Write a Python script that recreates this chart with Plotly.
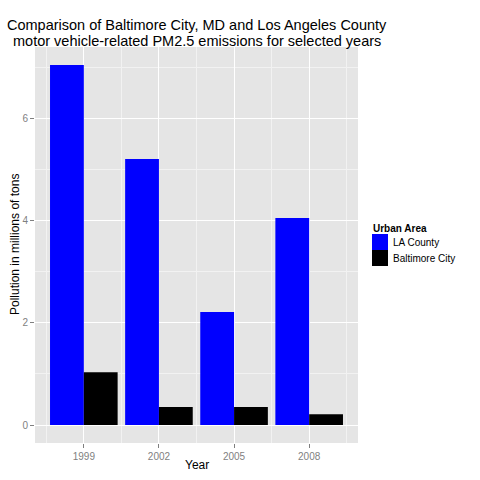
import plotly.graph_objects as go

years = ["1999", "2002", "2005", "2008"]
la_county = [7.04, 5.20, 2.21, 4.05]
baltimore = [1.03, 0.35, 0.35, 0.21]
series_names = ["LA County", "Baltimore City"]
series_colors = ["#0000FF", "#000000"]
title_lines = ["Comparison of Baltimore City, MD and Los Angeles County",
               "motor vehicle-related PM2.5 emissions for selected years"]
x_title = "Year"
y_title = "Pollution in millions of tons"

FONT = "Liberation Sans, Arial, Helvetica, sans-serif"
W, H = 480, 480
L, R, T, B = 35, 358, 47, 443  # panel pixel box

xi = list(range(len(years)))

fig = go.Figure()
for name, vals, col in zip(series_names, [la_county, baltimore], series_colors):
    fig.add_trace(go.Bar(x=xi, y=vals, name=name, marker=dict(color=col, line=dict(width=0)),
                         showlegend=False))

def px_x(p):
    return (p - L) / (R - L)

def px_y(p):
    return (B - p) / (B - T)

fig.update_layout(
    width=W, height=H,
    margin=dict(l=L, r=W - R, t=T, b=H - B),
    paper_bgcolor="white", plot_bgcolor="#E5E5E5",
    barmode="group", bargap=0.1, bargroupgap=0,
    font=dict(family=FONT, color="black"),
    xaxis=dict(
        range=[-0.65, 3.65], tickmode="array", tickvals=xi, ticktext=years,
        automargin=False,
        showgrid=True, gridcolor="white", gridwidth=1.2, zeroline=False,
        ticks="outside", ticklen=4, tickcolor="#7F7F7F", tickwidth=1,
        tickfont=dict(size=10, color="#7F7F7F", family=FONT),
        minor=dict(tickmode="array", tickvals=[-0.5, 0.5, 1.5, 2.5, 3.5],
                   showgrid=True, gridcolor="#F2F2F2", gridwidth=0.6, ticks=""),
        showline=False,
    ),
    yaxis=dict(
        range=[-0.352, 7.392], tickmode="array", tickvals=[0, 2, 4, 6],
        ticktext=["0", "2", "4", "6"], automargin=False,
        showgrid=True, gridcolor="white", gridwidth=1.2, zeroline=False,
        ticks="outside", ticklen=4, tickcolor="#7F7F7F", tickwidth=1,
        tickfont=dict(size=10, color="#7F7F7F", family=FONT),
        minor=dict(tickmode="array", tickvals=[1, 3, 5, 7],
                   showgrid=True, gridcolor="#F2F2F2", gridwidth=0.6, ticks=""),
        showline=False,
    ),
)

# Axis titles
fig.add_annotation(text=x_title, xref="paper", yref="paper", x=0.5, y=px_y(465),
                   xanchor="center", yanchor="middle", showarrow=False,
                   font=dict(size=12, color="black", family=FONT))
fig.add_annotation(text=y_title, xref="paper", yref="paper", x=px_x(15), y=0.5,
                   xanchor="center", yanchor="middle", showarrow=False, textangle=-90,
                   font=dict(size=12, color="black", family=FONT))

# Title lines
for line, py in zip(title_lines, [25, 41]):
    fig.add_annotation(text=line, xref="paper", yref="paper", x=0.5, y=px_y(py),
                       xanchor="center", yanchor="middle", showarrow=False,
                       font=dict(size=14.5, color="black", family=FONT))

# Legend (drawn manually to match ggplot key layout)
fig.add_annotation(text="<b>Urban Area</b>", xref="paper", yref="paper",
                   x=px_x(371), y=px_y(228), xanchor="left", yanchor="middle",
                   showarrow=False, font=dict(size=10, color="black", family=FONT))
for i, (name, col) in enumerate(zip(series_names, series_colors)):
    top = 234 + 16 * i
    fig.add_shape(type="rect", xref="paper", yref="paper",
                  x0=px_x(372), x1=px_x(388), y0=px_y(top + 16), y1=px_y(top),
                  fillcolor=col, line=dict(width=0))
    fig.add_annotation(text=name, xref="paper", yref="paper",
                       x=px_x(391), y=px_y(top + 8), xanchor="left", yanchor="middle",
                       showarrow=False, font=dict(size=10, color="black", family=FONT))

fig.write_html("out.html")
